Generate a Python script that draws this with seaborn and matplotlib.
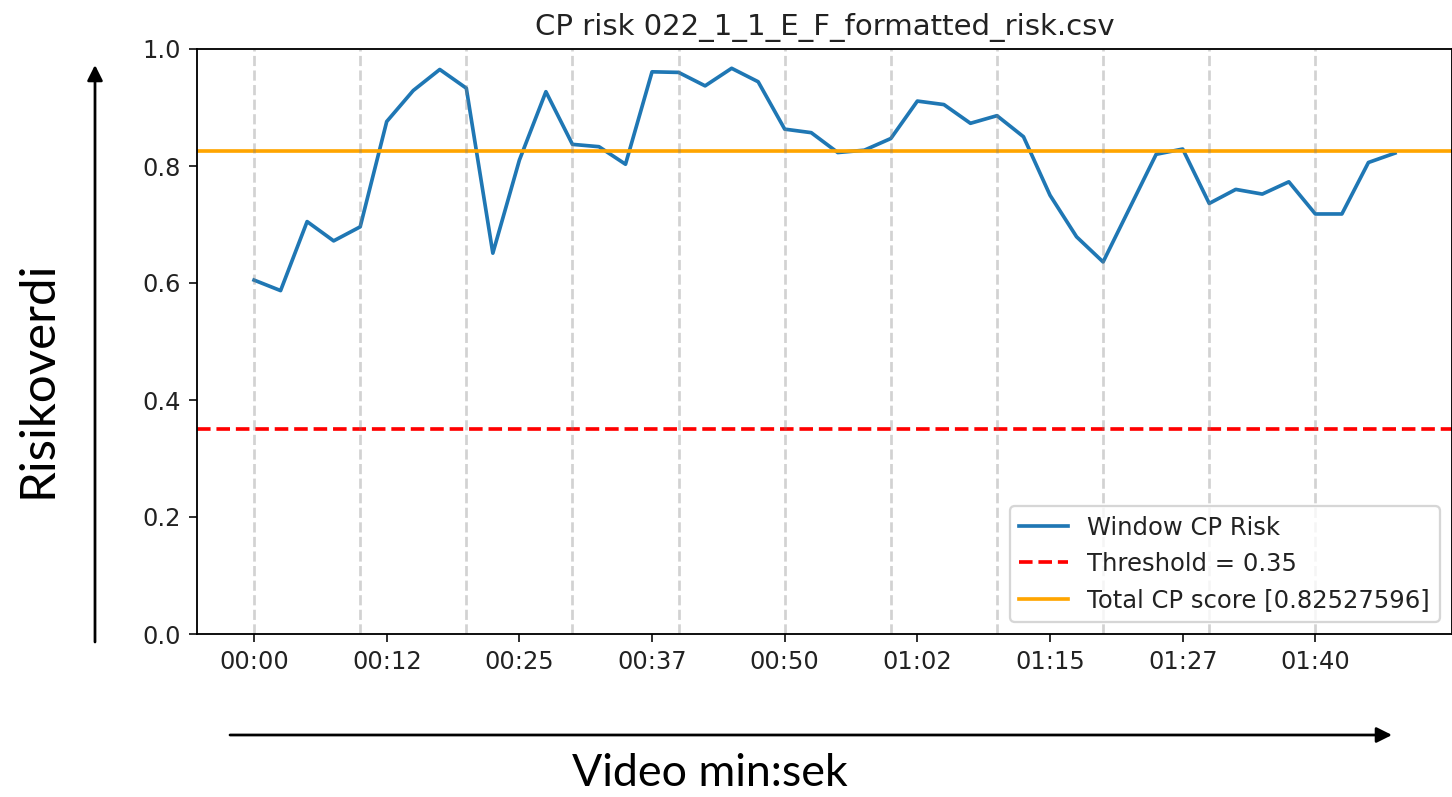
import matplotlib
matplotlib.use("Agg")
import matplotlib.pyplot as plt
import seaborn as sns
import pandas as pd

# ---- data ----
time_s = [i * 2.5 for i in range(44)]
window_risk = [0.605, 0.587, 0.705, 0.672, 0.696, 0.876, 0.929, 0.965, 0.933, 0.651,
               0.810, 0.927, 0.837, 0.833, 0.803, 0.961, 0.960, 0.937, 0.967, 0.944,
               0.863, 0.857, 0.823, 0.827, 0.847, 0.911, 0.905, 0.873, 0.886, 0.850,
               0.750, 0.679, 0.636, 0.728, 0.820, 0.829, 0.736, 0.760, 0.752, 0.773,
               0.718, 0.718, 0.806, 0.822]
threshold = 0.35
total_score = 0.82527596
marker_lines_s = [0, 10, 20, 30, 40, 50, 60, 70, 80, 90, 100]
tick_pos = [0, 12.5, 25, 37.5, 50, 62.5, 75, 87.5, 100]
tick_labels = ["00:00", "00:12", "00:25", "00:37", "00:50", "01:02", "01:15", "01:27", "01:40"]
title = "CP risk 022_1_1_E_F_formatted_risk.csv"

df = pd.DataFrame({"t": time_s, "risk": window_risk})

W, H, DPI = 1452, 797, 165
fig = plt.figure(figsize=(W / DPI, H / DPI), dpi=DPI)
ax = fig.add_axes([197 / W, (H - 634) / H, (W - 197) / W, 585 / H])

sns.lineplot(data=df, x="t", y="risk", ax=ax, color="#1f77b4", linewidth=1.6,
             label="Window CP Risk", estimator=None)
ax.axhline(threshold, color="red", linestyle="--", linewidth=1.6,
           label=f"Threshold = {threshold}")
ax.axhline(total_score, color="orange", linewidth=1.6,
           label=f"Total CP score [{total_score}]")
for xv in marker_lines_s:
    ax.axvline(xv, color="gray", linestyle="--", linewidth=1.2, alpha=0.35)

ax.set_ylim(0, 1.0)
ax.set_yticks([0.0, 0.2, 0.4, 0.6, 0.8, 1.0])
ax.set_xticks(tick_pos)
ax.set_xticklabels(tick_labels)
ax.tick_params(labelsize=10.5, colors="#222222")
ax.set_xlabel("")
ax.set_ylabel("")
ax.set_title(title, fontsize=12.7, color="#222222")
leg = ax.legend(loc="lower right", fontsize=10.6)
for t in leg.get_texts():
    t.set_color("#222222")

# annotation arrows and labels outside the plot
ann_font = ["Lato", "DejaVu Sans"]
fig.text(38 / W, 1 - 379 / H, "Risikoverdi", rotation=90, ha="center", va="center",
         fontsize=21.5, family=ann_font)
fig.text(710 / W, 1 - 774 / H, "Video min:sek", ha="center", va="center",
         fontsize=19.5, family=ann_font)
ax.annotate("", xy=(95 / W, 1 - 65 / H), xytext=(95 / W, 1 - 642 / H),
            xycoords="figure fraction", textcoords="figure fraction",
            arrowprops=dict(arrowstyle="-|>", color="black", lw=1.2,
                            mutation_scale=14, shrinkA=0, shrinkB=0),
            annotation_clip=False)
ax.annotate("", xy=(1392 / W, 1 - 735 / H), xytext=(230 / W, 1 - 735 / H),
            xycoords="figure fraction", textcoords="figure fraction",
            arrowprops=dict(arrowstyle="-|>", color="black", lw=1.2,
                            mutation_scale=14, shrinkA=0, shrinkB=0),
            annotation_clip=False)

fig.savefig("out.png", dpi=DPI)
